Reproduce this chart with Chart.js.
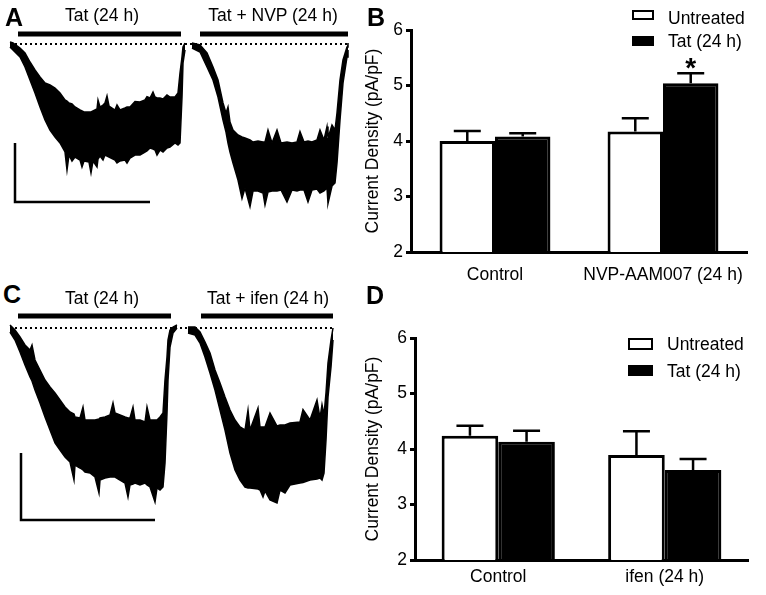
<!DOCTYPE html>
<html><head><meta charset="utf-8">
<script src="https://cdn.jsdelivr.net/npm/chart.js@4.4.1/dist/chart.umd.min.js"></script>
<style>
body{margin:0;background:#fff;width:766px;height:595px;position:relative;overflow:hidden;font-family:"Liberation Sans",Arial,sans-serif;}
canvas{position:absolute;}
.t{position:absolute;font-size:17.5px;line-height:17.5px;color:#000;white-space:nowrap;}
.c{transform:translateX(-50%);}
.L{position:absolute;font-weight:bold;font-size:25px;line-height:25px;color:#000;}
.box{position:absolute;box-sizing:border-box;border:2.5px solid #000;}
</style></head><body>
<canvas id="cA" width="360" height="217" style="left:0;top:27px"></canvas>
<canvas id="cC" width="360" height="217" style="left:0;top:311px"></canvas>
<canvas id="cB" width="406" height="295" style="left:360px;top:0"></canvas>
<canvas id="cD" width="406" height="300" style="left:360px;top:295px"></canvas>

<div class="L" style="left:5px;top:5px">A</div>
<div class="L" style="left:367px;top:5px">B</div>
<div class="L" style="left:3px;top:282px">C</div>
<div class="L" style="left:366px;top:283px">D</div>

<div class="t c" style="left:102px;top:6.5px">Tat (24 h)</div>
<div class="t c" style="left:273px;top:6.5px">Tat + NVP (24 h)</div>
<div class="t c" style="left:102px;top:289.5px">Tat (24 h)</div>
<div class="t c" style="left:268px;top:289.5px">Tat + ifen (24 h)</div>

<div class="box" style="left:632px;top:10px;width:22px;height:10px;background:#fff"></div>
<div class="box" style="left:632px;top:36px;width:22px;height:10px;background:#000"></div>
<div class="t" id="legB1" style="left:668px;top:10px"></div>
<div class="t" id="legB2" style="left:668px;top:33px"></div>
<div class="box" style="left:628px;top:338px;width:25px;height:12px;background:#fff"></div>
<div class="box" style="left:628px;top:365px;width:25px;height:11px;background:#000"></div>
<div class="t" id="legD1" style="left:667px;top:336px"></div>
<div class="t" id="legD2" style="left:667px;top:363px"></div>

<script>
// ---------- bar chart data ----------
const seriesNames = ['Untreated', 'Tat (24 h)'];
const yAxisTitle = 'Current Density (pA/pF)';
const yTickMin = 2, yTickMax = 6, yTickStep = 1;

const categoriesB = ['Control', 'NVP-AAM007 (24 h)'];
const untreatedB = [4.00, 4.17];
const untreatedErrB = [0.18, 0.24];
const tatB = [4.08, 5.04];
const tatErrB = [0.06, 0.18];
const tatSigB = ['', '*'];

const categoriesD = ['Control', 'ifen (24 h)'];
const untreatedD = [4.24, 3.89];
const untreatedErrD = [0.18, 0.43];
const tatD = [4.13, 3.62];
const tatErrD = [0.20, 0.20];
const tatSigD = ['', ''];

// ---------- current traces (time s, current pA: upper / lower envelope) ----------
const traceA1Time  = [1.0,1.3,2.0,2.5,3.0,3.5,4.0,4.5,5.0,5.5,6.0,6.5,6.7,6.9,7.2,7.5,8.0,8.2,8.4,8.9,9.1,9.3,9.7,9.8,10.0,10.3,10.5,10.7,10.9,11.5,11.7,12.0,12.5,12.7,13.0,13.5,14.0,14.5,14.7,15.0,15.3,15.5,15.7,16.0,16.3,16.7,17.0,17.5,17.8,18.0,18.2,18.3,18.5];
const traceA1Upper = [10,5,-20,-45,-90,-130,-165,-195,-205,-220,-245,-280,-285,-295,-300,-315,-330,-335,-340,-340,-340,-335,-325,-280,-315,-305,-295,-260,-310,-330,-305,-330,-320,-315,-315,-288,-290,-280,-263,-270,-240,-265,-270,-270,-275,-255,-265,-265,-245,-145,-65,-15,5];
const traceA1Lower = [-15,-30,-65,-115,-180,-245,-315,-380,-430,-465,-495,-540,-630,-555,-585,-565,-580,-615,-585,-590,-645,-585,-615,-575,-560,-580,-555,-560,-565,-580,-595,-585,-580,-595,-570,-555,-555,-540,-535,-520,-525,-530,-555,-530,-540,-520,-515,-495,-505,-495,-265,-95,-30];

const traceA2Time  = [19.2,20.0,20.7,21.3,21.8,22.3,22.6,22.8,23.0,23.3,23.8,24.2,24.5,25.0,25.3,25.8,26.3,26.5,26.8,27.2,27.7,28.1,28.7,29.2,29.7,30.0,30.4,30.8,31.2,31.7,32.0,32.4,32.7,32.8,33.2,33.5,33.7,34.0,34.3,34.7,34.8];
const traceA2Upper = [5,-5,-45,-115,-180,-295,-345,-315,-390,-430,-455,-465,-470,-480,-490,-485,-490,-490,-430,-495,-430,-495,-490,-495,-490,-438,-490,-485,-490,-480,-430,-480,-413,-470,-405,-430,-345,-180,-80,-15,5];
const traceA2Lower = [-20,-40,-115,-180,-265,-380,-440,-495,-540,-595,-680,-772,-720,-813,-735,-735,-745,-805,-740,-735,-735,-730,-790,-730,-735,-730,-730,-790,-730,-725,-745,-735,-720,-797,-710,-695,-595,-380,-195,-65,-30];

const traceC1Time  = [1.0,1.5,2.0,2.5,3.0,3.2,3.5,4.0,4.5,5.0,5.5,6.0,6.5,7.0,7.4,7.5,8.0,8.3,8.5,9.0,9.5,9.9,10.0,10.5,11.0,11.3,11.5,12.0,12.5,12.8,13.0,13.3,13.5,14.0,14.5,14.7,15.0,15.5,15.7,16.0,16.3,16.5,16.7,16.8,17.0,17.3,17.7];
const traceC1Upper = [15,-10,-45,-85,-110,-85,-160,-210,-260,-295,-325,-360,-395,-420,-430,-445,-450,-395,-460,-460,-460,-455,-450,-445,-435,-375,-425,-435,-445,-450,-450,-395,-460,-460,-470,-395,-460,-460,-460,-445,-425,-260,-145,-60,-10,5,15];
const traceC1Lower = [-20,-60,-120,-185,-245,-265,-310,-375,-445,-510,-575,-610,-645,-670,-760,-685,-700,-710,-720,-725,-745,-825,-760,-750,-745,-745,-745,-760,-775,-845,-785,-780,-775,-785,-775,-785,-795,-870,-800,-810,-795,-675,-425,-260,-95,-25,0];

const traceC2Time  = [18.8,19.5,20.0,20.5,21.0,21.5,22.0,22.5,23.0,23.5,24.0,24.5,24.8,25.0,25.8,26.0,26.3,26.5,27.0,27.7,28.0,28.5,29.0,30.0,30.3,31.0,31.7,32.0,32.2,32.4,32.6,32.8,33.1,33.3];
const traceC2Upper = [5,5,-20,-70,-125,-210,-275,-345,-410,-460,-495,-510,-410,-510,-400,-495,-495,-495,-425,-490,-485,-485,-475,-470,-408,-460,-360,-450,-383,-435,-325,-175,-60,0];
const traceC2Lower = [-25,-35,-75,-145,-225,-310,-410,-510,-625,-710,-760,-795,-800,-800,-805,-810,-845,-815,-860,-875,-810,-825,-785,-775,-772,-760,-755,-750,-760,-725,-560,-345,-195,-60];

// application bars [start, end] (s) and their level (pA)
const applyA = [[1.8, 18.1], [20.0, 34.8]];
const applyLevelA = 50;
const applyC = [[1.8, 17.1], [20.1, 33.3]];
const applyLevelC = 60;
// dotted zero-current baseline span (s)
const baselineA = [1.5, 34.8];
const baselineC = [1.5, 33.2];
// scale bars: [time, currentTop, currentBottom, timeEnd]
const scaleBarA = [1.5, -495, -790, 15.0];
const scaleBarC = [2.1, -625, -960, 15.5];

const legendIds = [['legB1','legB2'],['legD1','legD2']];
legendIds.forEach(pair => pair.forEach((id, i) => document.getElementById(id).textContent = seriesNames[i]));

const FONT = '"Liberation Sans", Arial, sans-serif';

function pts(xs, ys) { return xs.map((x, i) => ({x: x, y: ys[i]})); }

function traceChart(id, traces, apply, applyLevel, baseline, sb) {
  const ds = [];
  ds.push({data: [{x: baseline[0], y: 0}, {x: baseline[1], y: 0}], borderColor: '#000', borderWidth: 2, borderDash: [2, 3], fill: false});
  traces.forEach(tr => {
    ds.push({data: pts(tr[0], tr[1]), borderColor: '#000', borderWidth: 1.5, fill: false});
    ds.push({data: pts(tr[0], tr[2]), borderColor: '#000', borderWidth: 1.5, fill: '-1', backgroundColor: '#000'});
  });
  apply.forEach(a => ds.push({data: [{x: a[0], y: applyLevel}, {x: a[1], y: applyLevel}], borderColor: '#000', borderWidth: 5, fill: false}));
  ds.push({data: [{x: sb[0], y: sb[1]}, {x: sb[0], y: sb[2]}, {x: sb[3], y: sb[2]}], borderColor: '#000', borderWidth: 2.5, fill: false});
  new Chart(document.getElementById(id), {
    type: 'line',
    data: {datasets: ds},
    options: {
      responsive: false, animation: false, events: [],
      elements: {point: {radius: 0}, line: {tension: 0, borderCapStyle: 'butt'}},
      layout: {padding: 0},
      plugins: {legend: {display: false}, tooltip: {enabled: false}},
      scales: {
        x: {type: 'linear', min: 0, max: 36, display: false},
        y: {type: 'linear', min: -1000, max: 85, display: false}
      }
    }
  });
}

traceChart('cA', [[traceA1Time, traceA1Upper, traceA1Lower], [traceA2Time, traceA2Upper, traceA2Lower]], applyA, applyLevelA, baselineA, scaleBarA);
traceChart('cC', [[traceC1Time, traceC1Upper, traceC1Lower], [traceC2Time, traceC2Upper, traceC2Lower]], applyC, applyLevelC, baselineC, scaleBarC);

const errorBarPlugin = {
  id: 'errorBars',
  afterDatasetsDraw(chart) {
    const ctx = chart.ctx, y = chart.scales.y;
    ctx.save();
    ctx.strokeStyle = '#000'; ctx.fillStyle = '#000'; ctx.lineWidth = 2.5;
    chart.data.datasets.forEach((d, di) => {
      const meta = chart.getDatasetMeta(di);
      meta.data.forEach((bar, i) => {
        const v = d.data[i], e = d.errors[i];
        const y0 = y.getPixelForValue(v), y1 = y.getPixelForValue(v + e);
        ctx.beginPath();
        ctx.moveTo(bar.x, y0); ctx.lineTo(bar.x, y1);
        ctx.moveTo(bar.x - 13.5, y1); ctx.lineTo(bar.x + 13.5, y1);
        ctx.stroke();
        if (d.sig && d.sig[i]) {
          ctx.font = 'bold 28px ' + FONT;
          ctx.textAlign = 'center'; ctx.textBaseline = 'alphabetic';
          ctx.fillText(d.sig[i], bar.x, y1 + 4);
        }
      });
    });
    ctx.restore();
  }
};

function barChart(id, cats, u, uErr, t, tErr, sig, cfg) {
  const common = {borderColor: '#000', borderWidth: 3, borderSkipped: 'start', categoryPercentage: cfg.catPct, barPercentage: 1};
  new Chart(document.getElementById(id), {
    type: 'bar',
    data: {
      labels: cats,
      datasets: [
        Object.assign({label: seriesNames[0], data: u, errors: uErr, backgroundColor: '#fff'}, common),
        Object.assign({label: seriesNames[1], data: t, errors: tErr, sig: sig, backgroundColor: '#000'}, common)
      ]
    },
    options: {
      responsive: false, animation: false, events: [],
      layout: {padding: {top: cfg.padTop, right: cfg.padRight, left: 0, bottom: 0}},
      plugins: {legend: {display: false}, tooltip: {enabled: false}},
      scales: {
        x: {
          grid: {display: false, drawTicks: false, tickLength: 0},
          border: {display: true, color: '#000', width: 3},
          ticks: {color: '#000', font: {family: FONT, size: 17.5}, padding: cfg.xPad, maxRotation: 0},
          afterFit: s => { s.height = cfg.xHeight; }
        },
        y: {
          min: yTickMin, max: yTickMax,
          grid: {display: true, drawOnChartArea: false, drawTicks: true, tickLength: 5, tickWidth: 3, tickColor: '#000'},
          border: {display: true, color: '#000', width: 3},
          ticks: {stepSize: yTickStep, color: '#000', font: {family: FONT, size: 17.5}, padding: 3},
          title: {display: true, text: yAxisTitle, color: '#000', font: {family: FONT, size: 17.5}, padding: {top: 3, bottom: 0}},
          afterFit: s => { s.width = cfg.yWidth; }
        }
      }
    },
    plugins: [errorBarPlugin]
  });
}

barChart('cB', categoriesB, untreatedB, untreatedErrB, tatB, tatErrB, tatSigB, {catPct: 0.66, padTop: 30, padRight: 19, yWidth: 51, xHeight: 43, xPad: 13});
barChart('cD', categoriesD, untreatedD, untreatedErrD, tatD, tatErrD, tatSigD, {catPct: 0.68, padTop: 43, padRight: 18, yWidth: 55, xHeight: 35, xPad: 7});
</script>
</body></html>
